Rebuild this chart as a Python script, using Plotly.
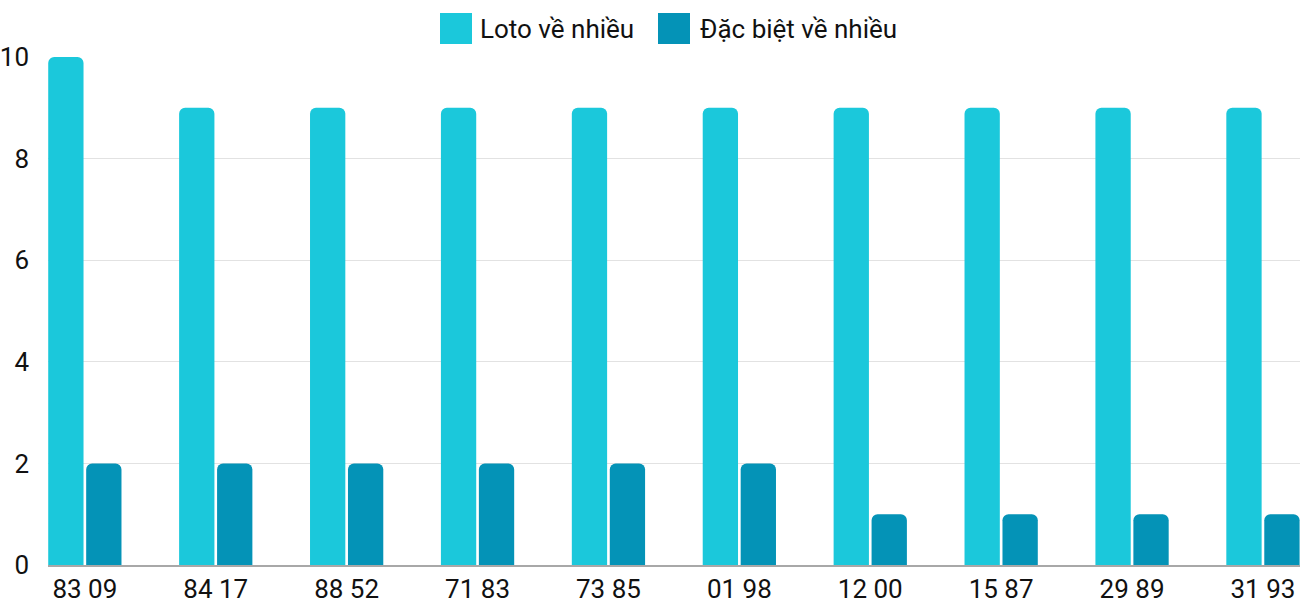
import plotly.graph_objects as go

categories = ["83 09", "84 17", "88 52", "71 83", "73 85", "01 98", "12 00", "15 87", "29 89", "31 93"]
loto_values = [10, 9, 9, 9, 9, 9, 9, 9, 9, 9]
dacbiet_values = [2, 2, 2, 2, 2, 2, 1, 1, 1, 1]
series_names = ["Loto về nhiều", "Đặc biệt về nhiều"]
colors = ["#1bc8db", "#0493b7"]
y_ticks = [0, 2, 4, 6, 8, 10]

FONT = "Roboto"
W, H = 1300, 600
ML, MR, MT, MB = 48, 0, 57, 35
pw = W - ML - MR
ph = H - MT - MB


def px_x(p):
    return (p - ML) / pw


def px_y(p):
    return (H - MB - p) / ph


fig = go.Figure()
for name, vals, col in zip(series_names, [loto_values, dacbiet_values], colors):
    fig.add_trace(go.Bar(
        x=categories, y=vals, name=name,
        marker=dict(color=col, cornerradius=6, line=dict(width=0)),
        showlegend=False, hoverinfo="x+y+name",
    ))

# custom legend (large squares like the reference)
legend_items = [(440, 472, 478), (658, 690, 698)]
shapes = []
annotations = []
for (x0, x1, tx), name, col in zip(legend_items, series_names, colors):
    shapes.append(dict(type="rect", xref="paper", yref="paper",
                       x0=px_x(x0), x1=px_x(x1), y0=px_y(44), y1=px_y(13),
                       fillcolor=col, line=dict(width=0), layer="above"))
    annotations.append(dict(xref="paper", yref="paper", x=px_x(tx), y=px_y(29),
                            xanchor="left", yanchor="middle", showarrow=False,
                            text=name, font=dict(family=FONT, size=26, color="#111")))

fig.update_layout(
    width=W, height=H,
    margin=dict(l=ML, r=MR, t=MT, b=MB, pad=0, autoexpand=False),
    paper_bgcolor="white", plot_bgcolor="white",
    barmode="group", bargap=0.42, bargroupgap=0.07,
    font=dict(family=FONT, size=26, color="#111"),
    shapes=shapes, annotations=annotations,
    showlegend=False,
)
fig.update_xaxes(
    type="category", range=[-0.2815, 9.283], automargin=False,
    showgrid=False, showline=True, linecolor="#a8a8a8", linewidth=1.5,
    ticks="", tickfont=dict(family=FONT, size=26, color="#111"),
    ticklabelstandoff=0, fixedrange=True,
)
fig.update_yaxes(
    range=[0, 10], tickvals=y_ticks, automargin=False,
    showgrid=True, gridcolor="#e2e2e2", gridwidth=1,
    zeroline=False, showline=False, ticks="",
    tickfont=dict(family=FONT, size=26, color="#111"),
    ticklabelstandoff=18, fixedrange=True,
)

fig.write_html(
    "out.html", include_plotlyjs=True, config={"displayModeBar": False},
    post_script="document.body.style.margin='0';document.body.style.overflow='hidden';",
)
